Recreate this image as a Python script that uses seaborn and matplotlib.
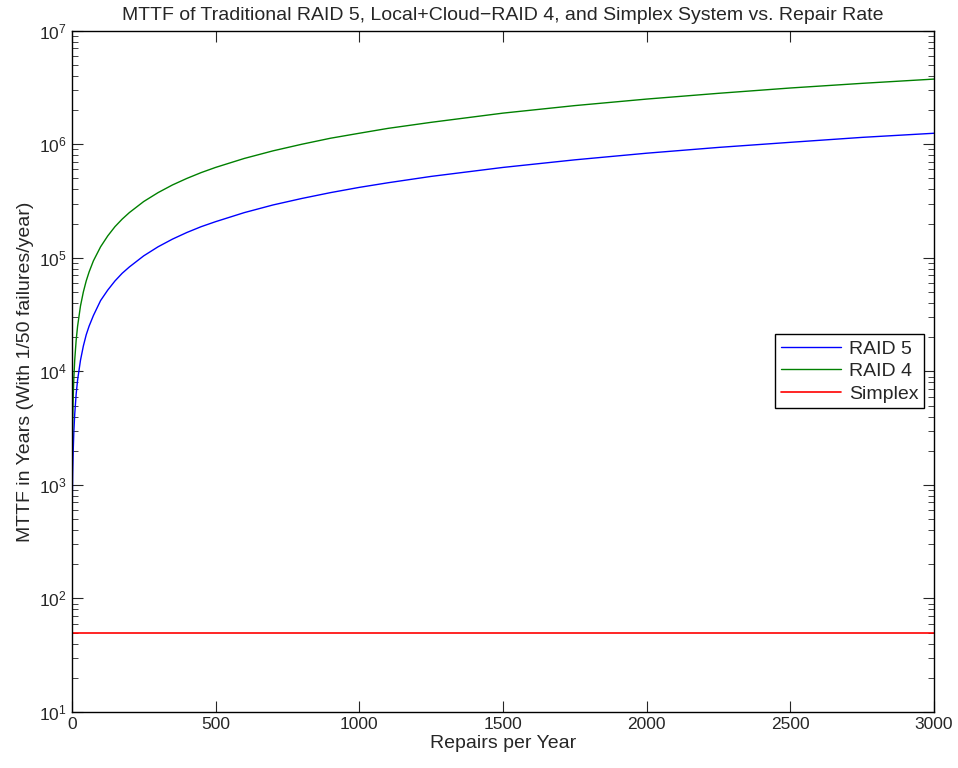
import numpy as np
import pandas as pd
import matplotlib
matplotlib.use("Agg")
import matplotlib.pyplot as plt
import seaborn as sns

# values (repairs per year -> MTTF in years)
repairs = [1, 2, 3, 5, 7, 10, 15, 20, 30, 40, 50, 60, 75, 100, 125, 150,
           175, 200, 250, 300, 350, 400, 450, 500, 600, 700, 800, 900, 1000,
           1100, 1250, 1500, 1750, 2000, 2250, 2500, 2750, 3000]
raid5 = [460, 875, 1290, 2100, 2960, 4200, 6300, 8400, 12500, 16700, 21000,
         25000, 31000, 42000, 52000, 62500, 73000, 83000, 104000, 125000,
         146000, 167000, 188000, 208000, 250000, 292000, 333000, 375000,
         417000, 458000, 521000, 625000, 729000, 834000, 938000, 1040000,
         1150000, 1250000]
raid4 = [1300, 2550, 3800, 6300, 8800, 12600, 18800, 25000, 37600, 50000,
         62600, 75000, 94000, 125000, 156000, 188000, 219000, 250000, 313000,
         375000, 438000, 500000, 563000, 625000, 750000, 875000, 1000000,
         1130000, 1250000, 1380000, 1560000, 1880000, 2190000, 2500000,
         2810000, 3130000, 3440000, 3750000]
simplex_x = [1, 3000]
simplex = [50, 50]

sns.set_style("ticks")
plt.rcParams['font.family'] = ['Liberation Sans', 'DejaVu Sans']
plt.rcParams['mathtext.fontset'] = 'custom'
plt.rcParams['mathtext.rm'] = 'Liberation Sans'

fig = plt.figure(figsize=(9.58, 7.68), dpi=100)
ax = fig.add_axes([0.075, 0.073, 0.9, 0.887])

sns.lineplot(x=repairs, y=raid5, color=(0, 0, 1), lw=1, label="RAID 5", ax=ax)
sns.lineplot(x=repairs, y=raid4, color=(0, 0.5, 0), lw=1, label="RAID 4", ax=ax)
sns.lineplot(x=simplex_x, y=simplex, color=(1, 0, 0), lw=1.2, label="Simplex", ax=ax)

ax.set_yscale("log")
ax.set_xlim(0, 3000)
ax.set_ylim(10, 1e7)
ax.set_xticks(np.arange(0, 3001, 500))

ax.tick_params(which="both", direction="in", top=True, right=True, labelsize=12.5)
ax.tick_params(which="major", length=8, width=0.8)
ax.tick_params(which="minor", length=4, width=0.6)
for s in ax.spines.values():
    s.set_visible(True)
    s.set_linewidth(1)
    s.set_color("black")

ax.set_title("MTTF of Traditional RAID 5, Local+Cloud\u2212RAID 4, and Simplex System vs. Repair Rate",
             fontsize=14, pad=8)
ax.set_xlabel("Repairs per Year", fontsize=14, labelpad=2)
ax.set_ylabel("MTTF in Years (With 1/50 failures/year)", fontsize=14, labelpad=4)

leg = ax.legend(loc="center right", bbox_to_anchor=(1, 0.5), fontsize=14,
                frameon=True, fancybox=False, framealpha=1, edgecolor="black",
                handlelength=3.1, borderpad=0.3, labelspacing=0.25,
                handletextpad=0.4, borderaxespad=0.5)
leg.get_frame().set_linewidth(1)

fig.savefig("out.png", dpi=100)
